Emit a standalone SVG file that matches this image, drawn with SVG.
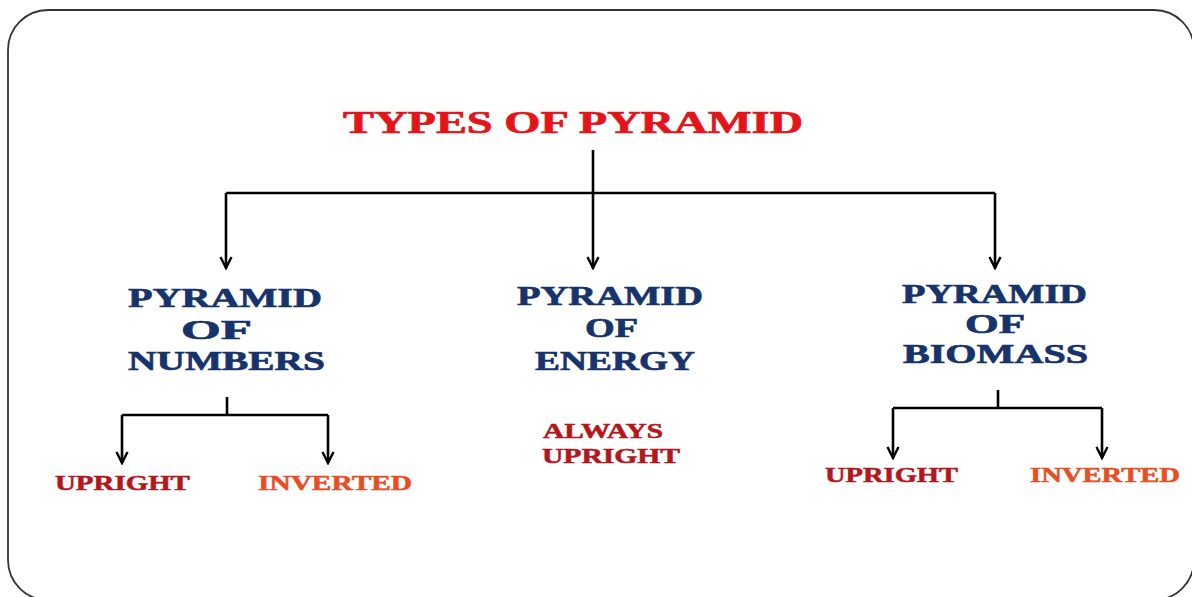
<svg xmlns="http://www.w3.org/2000/svg" width="1192" height="597" viewBox="0 0 1192 597">
<style>
text{font-family:"Liberation Serif","Times New Roman",serif;font-weight:bold;stroke-width:0.7;}
.title{fill:#E3151A;stroke:#E3151A;font-size:32px;}
.node{fill:#17336B;stroke:#17336B;font-size:28px;}
.up{fill:#B4161B;stroke:#B4161B;font-size:20px;stroke-width:0.5;}
.inv{fill:#E84E26;stroke:#E84E26;font-size:20px;stroke-width:0.5;}
.conn{stroke:#000;stroke-width:2.6;fill:none;}
</style>
<defs>
<marker id="arr" viewBox="0 0 14 14" refX="12" refY="7" markerWidth="14" markerHeight="14" markerUnits="userSpaceOnUse" orient="auto">
<path d="M1,1.5 L12,7 L1,12.5" fill="none" stroke="#000" stroke-width="2.4"/>
</marker>
</defs>
<rect id="frame" x="8" y="10" width="1186" height="590" rx="40" ry="40" fill="#fff" stroke="#333" stroke-width="1.8"/>
<g id="connectors" class="conn">
<path d="M593,150 V268" marker-end="url(#arr)"/>
<path d="M226,193 H995"/>
<path d="M226,193 V268" marker-end="url(#arr)"/>
<path d="M995,193 V268" marker-end="url(#arr)"/>
<path d="M227,397 V415"/>
<path d="M122,415 H328"/>
<path d="M122,415 V463" marker-end="url(#arr)"/>
<path d="M328,415 V463" marker-end="url(#arr)"/>
<path d="M998,390 V408"/>
<path d="M893,408 H1102"/>
<path d="M893,408 V458" marker-end="url(#arr)"/>
<path d="M1102,408 V458" marker-end="url(#arr)"/>
</g>
<g id="title"><text class="title" transform="translate(343,133) scale(1.42,1)" textLength="324" lengthAdjust="spacingAndGlyphs">TYPES OF PYRAMID</text></g>
<g id="pyramid-numbers">
<text class="node" transform="translate(128,307) scale(1.42,1)" textLength="136.6" lengthAdjust="spacingAndGlyphs">PYRAMID</text>
<text class="node" transform="translate(181,339) scale(1.42,1)" textLength="50" lengthAdjust="spacingAndGlyphs">OF</text>
<text class="node" transform="translate(128,370) scale(1.42,1)" textLength="138.7" lengthAdjust="spacingAndGlyphs">NUMBERS</text>
</g>
<g id="pyramid-energy">
<text class="node" transform="translate(517,305) scale(1.42,1)" textLength="131" lengthAdjust="spacingAndGlyphs">PYRAMID</text>
<text class="node" transform="translate(585,337) scale(1.42,1)" textLength="37.3" lengthAdjust="spacingAndGlyphs">OF</text>
<text class="node" transform="translate(535,370) scale(1.42,1)" textLength="112.7" lengthAdjust="spacingAndGlyphs">ENERGY</text>
</g>
<g id="pyramid-biomass">
<text class="node" transform="translate(902,303) scale(1.42,1)" textLength="130.3" lengthAdjust="spacingAndGlyphs">PYRAMID</text>
<text class="node" transform="translate(965,333) scale(1.42,1)" textLength="42.3" lengthAdjust="spacingAndGlyphs">OF</text>
<text class="node" transform="translate(903,363) scale(1.42,1)" textLength="130.3" lengthAdjust="spacingAndGlyphs">BIOMASS</text>
</g>
<g id="numbers-upright"><text class="up" transform="translate(55,490) scale(1.42,1)" textLength="95" lengthAdjust="spacingAndGlyphs">UPRIGHT</text></g>
<g id="numbers-inverted"><text class="inv" transform="translate(258,490) scale(1.42,1)" textLength="108.5" lengthAdjust="spacingAndGlyphs">INVERTED</text></g>
<g id="energy-always-upright">
<text class="up" transform="translate(543,438) scale(1.42,1)" textLength="84.5" lengthAdjust="spacingAndGlyphs">ALWAYS</text>
<text class="up" transform="translate(542,463) scale(1.42,1)" textLength="97.2" lengthAdjust="spacingAndGlyphs">UPRIGHT</text>
</g>
<g id="biomass-upright"><text class="up" transform="translate(825,482) scale(1.42,1)" textLength="93.7" lengthAdjust="spacingAndGlyphs">UPRIGHT</text></g>
<g id="biomass-inverted"><text class="inv" transform="translate(1030,482) scale(1.42,1)" textLength="105.6" lengthAdjust="spacingAndGlyphs">INVERTED</text></g>
</svg>
